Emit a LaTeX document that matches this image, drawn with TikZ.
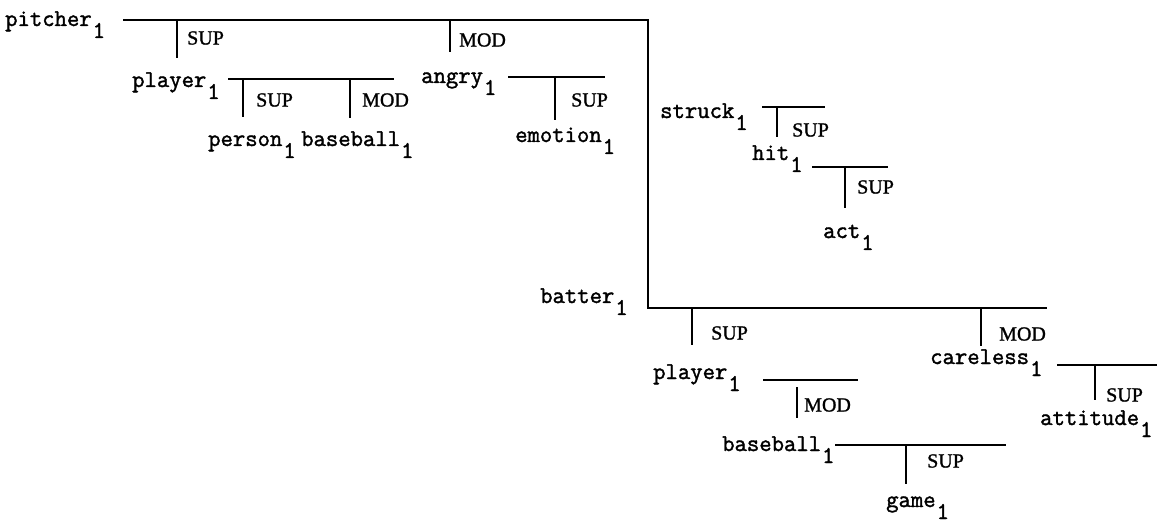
\documentclass[tikz,border=0pt]{standalone}
\usepackage{fontspec}
\setmonofont[FakeBold=1.6]{Latin Modern Mono}
\newfontfamily\lblfont[FakeBold=1.2]{Liberation Serif}
\newcommand\sone{\kern1pt\raisebox{-12pt}{1}}
\tikzset{
  word/.style={inner sep=0pt, anchor=base west, font=\ttfamily\fontsize{24}{27}\selectfont},
  rel/.style={inner sep=0pt, anchor=west, font=\lblfont\fontsize{20}{22}\selectfont},
  ln/.style={line width=2.4pt, line join=miter},
  tk/.style={line width=2.2pt},
}
\begin{document}
\begin{tikzpicture}[x=1pt,y=-1pt]
\useasboundingbox (0,0) rectangle (1161,526);
% words
\node[word] (pitcher) at (5,26) {pitcher\sone};
\node[word] (player) at (132,87) {player\sone};
\node[word] (person) at (208,146) {person\sone};
\node[word] (baseballA) at (301,146) {baseball\sone};
\node[word] (angry) at (421,83) {angry\sone};
\node[word] (emotion) at (515,142) {emotion\sone};
\node[word] (struck) at (660,118) {struck\sone};
\node[word] (hit) at (752,160) {hit\sone};
\node[word] (act) at (823,238) {act\sone};
\node[word] (batter) at (540,303) {batter\sone};
\node[word] (playerB) at (653,379) {player\sone};
\node[word] (baseballB) at (722,451) {baseball\sone};
\node[word] (game) at (886,507) {game\sone};
\node[word] (careless) at (930,364) {careless\sone};
\node[word] (attitude) at (1040,425) {attitude\sone};
% relation labels
\node[rel] (l1) at (187,38) {SUP};
\node[rel] (l2) at (459,40) {MOD};
\node[rel] (l3) at (256,100) {SUP};
\node[rel] (l4) at (362,100) {MOD};
\node[rel] (l5) at (571,100) {SUP};
\node[rel] (l6) at (792,130) {SUP};
\node[rel] (l7) at (857,187) {SUP};
\node[rel] (l8) at (711,333) {SUP};
\node[rel] (l9) at (999,334) {MOD};
\node[rel] (l10) at (804,405) {MOD};
\node[rel] (l11) at (927,461) {SUP};
\node[rel] (l12) at (1106,395) {SUP};
% coordinates
\coordinate (pA) at (123,20);
\coordinate (pC) at (648,20);
\coordinate (bC) at (648,308);
\coordinate (bE) at (1047,308);
\coordinate (plA) at (228,79);
\coordinate (plE) at (394,79);
\coordinate (anA) at (508,77);
\coordinate (anE) at (605,77);
\coordinate (stA) at (762,107);
\coordinate (stE) at (825,107);
\coordinate (hiA) at (812,167);
\coordinate (hiE) at (888,167);
\coordinate (pbA) at (763,380);
\coordinate (pbE) at (858,380);
\coordinate (bbA) at (835,445);
\coordinate (bbE) at (1006,445);
\coordinate (caA) at (1057,365);
\coordinate (caE) at (1157,365);
% main lines
\draw[ln] (pA) -- (pC) -- (bC) -- (bE);
\draw[ln] (plA) -- (plE);
\draw[ln] (anA) -- (anE);
\draw[ln] (stA) -- (stE);
\draw[ln] (hiA) -- (hiE);
\draw[ln] (pbA) -- (pbE);
\draw[ln] (bbA) -- (bbE);
\draw[ln] (caA) -- (caE);
% ticks
\draw[tk] (177,20) -- (177,58);
\draw[tk] (450,20) -- (450,52);
\draw[tk] (243,79) -- (243,117);
\draw[tk] (350,79) -- (350,118);
\draw[tk] (555,77) -- (555,120);
\draw[tk] (777,107) -- (777,137);
\draw[tk] (845,167) -- (845,208);
\draw[tk] (692,308) -- (692,345);
\draw[tk] (981,308) -- (981,346);
\draw[tk] (797,387) -- (797,418);
\draw[tk] (906,445) -- (906,484);
\draw[tk] (1095,365) -- (1095,400);
\end{tikzpicture}
\end{document}
